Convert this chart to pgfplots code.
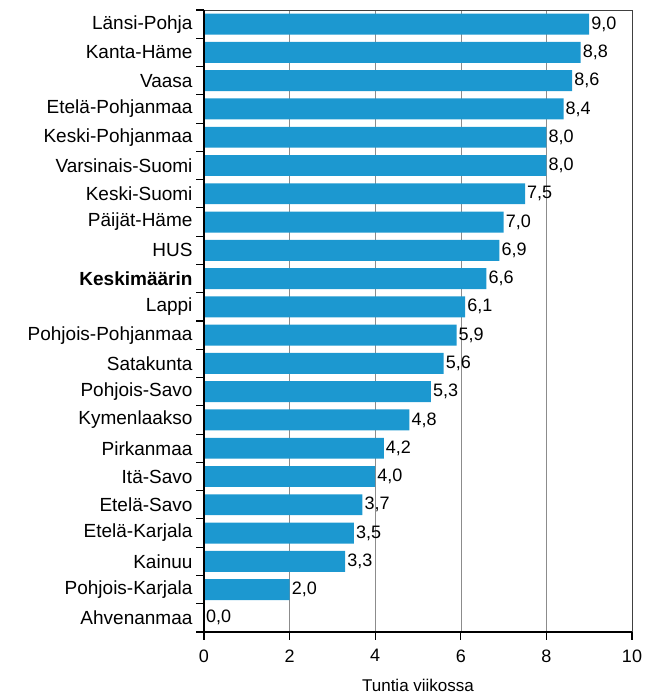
\documentclass[border=0pt]{standalone}
\usepackage{fontspec}
\setmainfont{Liberation Sans}
\usepackage{pgfplots}
\pgfplotsset{compat=1.18}
\usetikzlibrary{calc}
\definecolor{barblue}{RGB}{28,152,208}

\begin{document}
\begin{tikzpicture}
\begin{axis}[
    at={(0,0)}, anchor=south west,
    scale only axis,
    width=428pt, height=622pt,
    clip=false,
    xbar, bar width=0.74,
    xmin=0, xmax=10,
    ymin=-0.5, ymax=21.5,
    xtick={0,2,...,10},
    ytick={0,...,21},
    yticklabels={Ahvenanmaa,Pohjois-Karjala,Kainuu,Etelä-Karjala,Etelä-Savo,Itä-Savo,Pirkanmaa,Kymenlaakso,Pohjois-Savo,Satakunta,Pohjois-Pohjanmaa,Lappi,\textbf{Keskimäärin},HUS,Päijät-Häme,Keski-Suomi,Varsinais-Suomi,Keski-Pohjanmaa,Etelä-Pohjanmaa,Vaasa,Kanta-Häme,Länsi-Pohja},
    major tick length=8pt,
    tick align=outside,
    xtick pos=bottom, ytick pos=left,
    tick style={draw=none},
    xmajorgrids,
    grid style={black!45, line width=0.6pt},
    axis line style={black!75, line width=0.8pt},
    yticklabel style={font=\fontsize{19}{22}\selectfont},
    xticklabel style={font=\fontsize{18}{20}\selectfont, yshift=-6pt},
    xlabel={Tuntia viikossa},
    xlabel style={font=\fontsize{17}{20}\selectfont, yshift=-10pt},
    /pgf/number format/assume math mode=true,
    nodes near coords,
    nodes near coords style={font=\fontsize{18}{20}\selectfont, inner sep=2pt,
        /pgf/number format/.cd, fixed, fixed zerofill, precision=1, use comma},
]
\addplot[fill=barblue, draw=none] coordinates {
    (9.0,21) (8.8,20) (8.6,19) (8.4,18) (8.0,17) (8.0,16) (7.5,15) (7.0,14)
    (6.9,13) (6.6,12) (6.1,11) (5.9,10) (5.6,9) (5.3,8) (4.8,7)
    (4.2,6) (4.0,5) (3.7,4) (3.5,3) (3.3,2) (2.0,1) (0.0,0)
};
\draw[black, line width=1.6pt] (rel axis cs:0,1) -- (rel axis cs:0,0) -- (rel axis cs:1,0);
\end{axis}
% tick marks: category boundaries on the left, values on the bottom
\foreach \k in {0,...,22}
    \draw[black, line width=1.1pt] ($(current axis.south west)!\k/22!(current axis.north west)$) -- ++(-8pt,0);
\foreach \k in {0,...,5}
    \draw[black, line width=1.2pt] ($(current axis.south west)!\k/5!(current axis.south east)$) -- ++(0,-8pt);
\pgfresetboundingbox
\path (-204pt,-63pt) rectangle (443pt,632pt);
\end{tikzpicture}
\end{document}
